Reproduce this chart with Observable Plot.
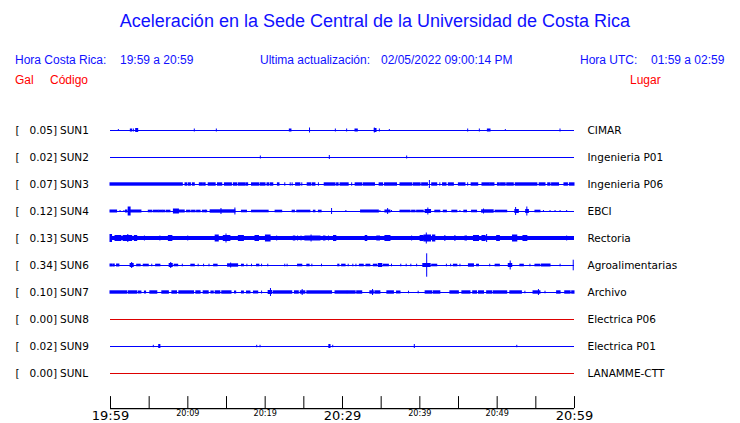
<!DOCTYPE html>
<html><head><meta charset="utf-8">
<script src="https://cdn.jsdelivr.net/npm/d3@7"></script>
<script src="https://cdn.jsdelivr.net/npm/@observablehq/plot@0.6"></script>
<style>
body{margin:0;background:#fff;width:740px;height:423px;overflow:hidden}
#hdr{position:relative;height:95px;font-family:"Liberation Sans",Arial,sans-serif}
#hdr span{position:absolute;white-space:pre;font-size:12px;line-height:1;color:#1010ff}
#hdr span.r{color:#ff0000}
#hdr span.t{font-size:18px;left:0;width:750px;text-align:center;top:12px}
#chart svg{display:block}
</style></head>
<body>
<div id="hdr">
  <span class="t">Aceleración en la Sede Central de la Universidad de Costa Rica</span>
  <span style="left:15px;top:54px">Hora Costa Rica:</span>
  <span style="left:120px;top:54px">19:59 a 20:59</span>
  <span style="left:260px;top:54px">Ultima actualización:</span>
  <span style="left:381px;top:54px">02/05/2022 09:00:14 PM</span>
  <span style="left:580px;top:54px">Hora UTC:</span>
  <span style="left:651px;top:54px">01:59 a 02:59</span>
  <span class="r" style="left:15px;top:74px">Gal</span>
  <span class="r" style="left:50px;top:74px">Código</span>
  <span class="r" style="left:630px;top:74px">Lugar</span>
</div>
<div id="chart"></div>
<script>
// Stations, peak values (Gal) and places
const stations = ["SUN1","SUN2","SUN3","SUN4","SUN5","SUN6","SUN7","SUN8","SUN9","SUNL"];
const peaks = ["0.05","0.02","0.07","0.12","0.13","0.34","0.10","0.00","0.02","0.00"];
const places = ["CIMAR","Ingenieria P01","Ingenieria P06","EBCI","Rectoria","Agroalimentarias","Archivo","Electrica P06","Electrica P01","LANAMME-CTT"];
// continuous noise level per trace (display units)
const noise = [0,0,0,0,2.0,0,0,0,0,0];
// time axis: minutes after 19:59
const tickMinutes = [0,5,10,15,20,25,30,35,40,45,50,55,60];
const majorLabels = [0,30,60];
const minorLabels = [10,20,40,50];
// bursts per trace: [start minute, end minute, half amplitude]
const sun1 = [[1.08,1.08,1],[2.63,2.8,1.5],[3.02,3.02,1.5],[3.32,3.58,2],[10.9,10.9,1.5],[13.75,13.75,1.5],[23.19,23.4,1.5],[25.8,25.8,2.5],[29.14,29.14,1.5],[30.6,30.6,1.5],[31.68,31.98,1.5],[34.18,34.4,2],[34.18,34.18,2.5],[34.83,34.83,1.5],[36.12,36.12,1],[46.25,46.25,1.5],[47.76,47.76,1.5],[48.8,49.14,1.5],[51.12,51.12,1],[58.19,58.19,1.5]];
const sun2 = [[19.44,19.44,1.5],[28.36,28.36,2],[38.36,38.36,1.5]];
const sun3 = [[0,9.35,1.7],[9.7,9.9,1.7],[10.1,10.4,1.7],[10.65,10.9,1.7],[11.55,11.95,1.7],[12.1,12.3,1.7],[12.7,13.6,1.7],[13.9,14.45,1.7],[14.8,15.7,1.7],[15.95,16.4,1.7],[16.6,17.4,1.7],[17.55,17.8,1.7],[18.3,19.2,1.7],[19.4,20.05,1.7],[20.3,20.5,1.7],[20.7,21.05,1.7],[21.65,21.85,1.7],[22.6,22.6,1.7],[23.3,23.3,1.7],[23.55,23.55,1.7],[24.0,24.55,1.7],[24.8,24.8,1.7],[25.5,25.95,1.7],[26.15,26.5,1.7],[26.95,26.95,1.7],[27.7,29.1,1.7],[29.3,29.5,1.7],[29.75,30.8,1.7],[31.25,31.25,1.7],[31.7,32.55,1.7],[32.75,34.2,1.7],[34.8,35.25,1.7],[35.5,37.05,1.7],[37.5,39.0,1.7],[39.2,40.1,1.7],[40.3,41.05,1.7],[41.3,41.3,4],[41.6,42.25,1.7],[42.65,42.65,1.7],[43.0,43.45,1.7],[43.75,44.4,1.7],[45.05,45.9,1.7],[46.25,46.25,1.7],[46.7,47.55,1.7],[48.1,49.0,1.7],[49.1,49.65,1.7],[50.1,50.35,1.7],[50.5,51.1,1.7],[51.3,52.15,1.7],[52.4,55.2,1.7],[55.5,56.25,1.7],[56.6,56.9,1.7],[57.1,58.0,1.7],[58.7,59.15,1.7],[59.4,60,1.7]];
const sun4 = [[0,0.85,1.5],[1.3,1.3,1],[1.8,1.8,1],[2.0,2.2,1.5],[2.35,2.6,4.5],[2.6,4.0,1.5],[4.95,5.4,1.3],[5.6,6.25,1.3],[6.35,6.7,1.3],[6.8,7.1,1.3],[7.3,7.75,1.3],[8.2,8.85,2.5],[8.9,9.6,1.5],[9.9,10.35,1.3],[10.55,11.0,1.3],[11.2,11.65,1.3],[11.95,12.3,1.3],[12.35,12.5,1.3],[12.95,16.15,1.7],[14.35,14.35,3],[16.15,16.15,3.5],[17.0,17.65,1.3],[18.3,20.45,1.3],[21.35,22.2,1.3],[23.55,23.85,1.3],[24.15,25.85,1.3],[26.3,26.5,1.3],[26.95,27.3,1.3],[28.65,28.65,3],[30.5,30.5,1],[32.4,34.7,1.5],[34.9,34.9,1],[35.55,36.2,1.5],[35.9,35.9,3],[36.4,36.4,1],[37.5,38.8,1.3],[39.0,39.45,1.3],[39.65,40.5,1.3],[40.75,41.45,2],[41.1,41.1,3.5],[42.0,42.65,1.3],[43.1,43.5,1.3],[44.2,44.85,1.3],[45.25,45.25,1],[45.75,46.1,1.3],[46.75,47.4,1.3],[48.05,49.55,1.7],[48.3,48.3,2.5],[49.8,51.3,1.3],[52.35,52.8,2],[52.45,52.45,4],[53.75,54.1,2],[53.9,53.9,4.5],[54.95,55.6,1.3],[56.05,56.05,1],[56.9,56.9,1],[57.55,57.55,1],[58.2,58.2,1],[59.05,59.05,1]];
const sun5 = [[0,0.2,4],[0.65,1.4,3],[1.7,2.8,3],[2.3,2.3,4],[3.15,3.45,3],[4.45,4.45,2.5],[6.45,6.45,2.5],[7.55,8.0,3],[10.05,10.05,2.5],[13.6,14.0,3.5],[14.65,15.5,3],[15.0,15.0,4.5],[16.6,17.25,3],[18.75,19.2,3],[20.1,20.7,3.5],[21.55,21.55,2.5],[23.7,23.9,2.5],[24.25,24.25,2.5],[24.7,24.7,2.5],[25.2,27.15,2.5],[26.0,26.0,3.5],[27.6,27.8,2.5],[28.25,28.25,2.5],[28.9,29.2,3],[33.0,33.2,3],[34.5,34.85,2.5],[35.55,36.2,3],[39.0,39.0,2.5],[40.1,40.5,3],[40.6,41.45,3.5],[40.9,40.9,5.5],[41.7,42.0,3.5],[43.3,43.3,3],[44.6,44.6,3],[45.9,46.1,2.5],[47.0,47.65,3],[48.1,48.5,3],[48.7,48.7,4],[50.0,50.35,3],[52.05,52.6,3.5],[53.4,53.9,3],[59.05,59.05,2.5]];
const sun6 = [[0,0.3,1.5],[0.45,0.55,1.5],[0.85,1.15,1.5],[2.6,3.0,2],[2.8,2.8,3],[3.45,3.9,1.3],[4.3,4.95,1.3],[5.4,5.4,1.3],[5.9,6.45,1.3],[7.65,8.05,2],[7.85,7.85,3],[8.3,8.75,1.3],[9.35,9.35,1.3],[10.45,10.9,1.3],[11.4,11.4,1.3],[12.1,12.1,1.3],[12.8,12.8,1.3],[13.4,13.85,1.3],[15.2,16.5,1.7],[15.6,15.6,2.5],[17.0,17.25,1.3],[17.7,17.7,1.3],[18.3,18.3,1.3],[18.95,19.25,1.3],[19.6,19.6,1.3],[20.4,20.4,1.3],[22.6,22.6,1.3],[22.9,22.9,1.3],[24.25,24.8,1.3],[25.45,25.75,1.3],[26.1,26.1,1.3],[27.35,27.35,1.3],[29.45,29.6,1.3],[29.95,30.4,1.3],[30.8,30.8,1.3],[31.4,31.4,1.3],[31.8,31.8,1.3],[32.25,32.75,1.3],[33.1,33.6,1.3],[34.05,34.5,1.3],[34.7,35.15,2],[35.35,36.0,1.3],[36.4,36.4,1.3],[37.6,37.6,1.3],[38.3,38.3,1.3],[38.9,38.9,1.3],[39.65,39.65,1.3],[40.45,41.4,2],[40.95,40.95,11.7],[41.6,42.25,1.3],[43.5,43.5,1.3],[44.05,44.05,1.3],[44.4,44.85,1.3],[45.25,45.25,1.3],[46.35,47.0,1.7],[47.4,47.65,1.3],[49.1,49.1,1.3],[49.8,50.35,1.3],[51.5,51.95,2],[51.75,51.75,4.5],[53.0,53.45,1.3],[54.3,54.3,1.3],[54.95,55.6,1.3],[55.8,56.9,1.5],[58.2,58.2,1.3],[59.9,59.9,5.3]];
const sun7 = [[0,2.15,1.7],[2.35,3.45,1.7],[3.65,4.0,1.5],[4.45,4.6,1.5],[5.15,6.05,1.7],[6.7,7.55,1.7],[8.0,8.6,1.7],[8.9,10.8,1.7],[11.1,11.65,1.7],[12.05,12.7,1.7],[13.05,13.35,1.5],[13.6,14.2,1.7],[14.45,15.65,1.7],[16.1,16.25,1.5],[17.0,17.25,1.5],[17.65,18.1,1.5],[18.55,19.1,1.5],[19.6,19.6,1.5],[20.45,20.9,2],[20.75,20.75,4],[21.1,23.5,1.7],[23.85,24.35,1.7],[24.6,25.2,1.7],[24.85,24.85,3],[25.45,28.65,1.7],[29.1,30.6,1.7],[30.7,31.7,1.7],[31.9,32.55,1.7],[33.6,34.05,1.7],[33.95,33.95,3],[34.25,34.9,1.7],[35.8,36.65,1.7],[37.05,37.5,1.5],[38.6,38.6,1.3],[39.85,39.85,1.3],[40.75,41.6,1.7],[41.8,42.65,1.7],[43.95,45.05,1.7],[45.5,46.55,1.7],[46.9,47.4,1.7],[47.65,48.3,1.7],[48.7,49.35,1.7],[49.55,51.3,1.7],[51.7,53.2,1.7],[53.65,53.65,1.3],[54.7,55.6,1.7],[55.4,55.4,3],[56.25,56.25,1.3],[57.75,58.2,1.7],[58.8,59.5,1.7],[59.7,60,1.7]];
const sun8 = [];
const sun9 = [[5.6,5.6,1.2],[6.3,6.45,2],[18.97,18.97,1.2],[19.4,19.4,1.2],[28.3,28.45,2],[28.8,28.8,1.2],[39.35,39.35,2],[52.6,52.6,1.2]];
const sunl = [];
const bursts = [sun1,sun2,sun3,sun4,sun5,sun6,sun7,sun8,sun9,sunl];

const GAP = 27;          // display units per trace spacing
const AX = 10.3;         // axis position in trace units
const T0 = 19*60 + 59;
const fmt = t => { const m = T0 + t; return String(Math.floor(m/60) % 24).padStart(2,"0") + ":" + String(m % 60).padStart(2,"0"); };

const rows = stations.map((s, i) => ({i, s, peak: peaks[i], place: places[i], noise: noise[i], dead: peaks[i] === "0.00"}));
const ev = bursts.flatMap((b, i) => b.map(([t0, t1, a]) => ({i, t0, t1, a})));
const BLUE = "#0000ff", RED = "#dd0000";

const chart = Plot.plot({
  width: 740, height: 328,
  marginLeft: 110, marginRight: 166, marginTop: 0, marginBottom: 15,
  x: {domain: [0, 60], axis: null},
  y: {domain: [0, AX], range: [35, 35 + GAP * AX], axis: null},
  style: {fontFamily: "DejaVu Sans", background: "white", overflow: "visible", color: "black"},
  marks: [
    Plot.ruleY(rows.filter(d => !d.dead), {y: "i", stroke: BLUE, strokeWidth: 1.2}),
    Plot.ruleY(rows.filter(d => d.dead), {y: "i", stroke: RED, strokeWidth: 1.2}),
    Plot.rect(rows.filter(d => d.noise > 0), {x1: () => 0, x2: () => 60, y1: d => d.i - d.noise / GAP, y2: d => d.i + d.noise / GAP, fill: BLUE}),
    Plot.rect(ev, {x1: "t0", x2: "t1", y1: d => d.i - d.a / GAP, y2: d => d.i + d.a / GAP, fill: BLUE, insetLeft: -0.5, insetRight: -0.5}),
    Plot.text(rows, {y: "i", text: () => "[", frameAnchor: "left", dx: -95, textAnchor: "start", fontSize: 10.5, fill: "black"}),
    Plot.text(rows, {y: "i", text: d => d.peak + "]", frameAnchor: "left", dx: -53.5, textAnchor: "end", fontSize: 10.5, fill: "black"}),
    Plot.text(rows, {y: "i", text: "s", frameAnchor: "left", dx: -50.5, textAnchor: "start", fontSize: 10.5, fill: "black"}),
    Plot.text(rows, {y: "i", text: "place", frameAnchor: "right", dx: 13, textAnchor: "start", fontSize: 10.5, fill: "black"}),
    Plot.ruleY([AX], {stroke: "black", strokeWidth: 1.2}),
    Plot.ruleX(tickMinutes, {x: d => d, y1: AX, y2: AX - 12 / GAP, stroke: "black"}),
    Plot.text(majorLabels, {x: d => d, text: fmt, frameAnchor: "bottom", lineAnchor: "top", dy: 2, fontSize: 13, fill: "black"}),
    Plot.text(minorLabels, {x: d => d, text: fmt, frameAnchor: "bottom", lineAnchor: "top", dy: 1.5, fontSize: 9, fontFamily: "DejaVu Sans Condensed", fill: "black"})
  ]
});
document.getElementById("chart").appendChild(chart);
</script>
</body></html>
